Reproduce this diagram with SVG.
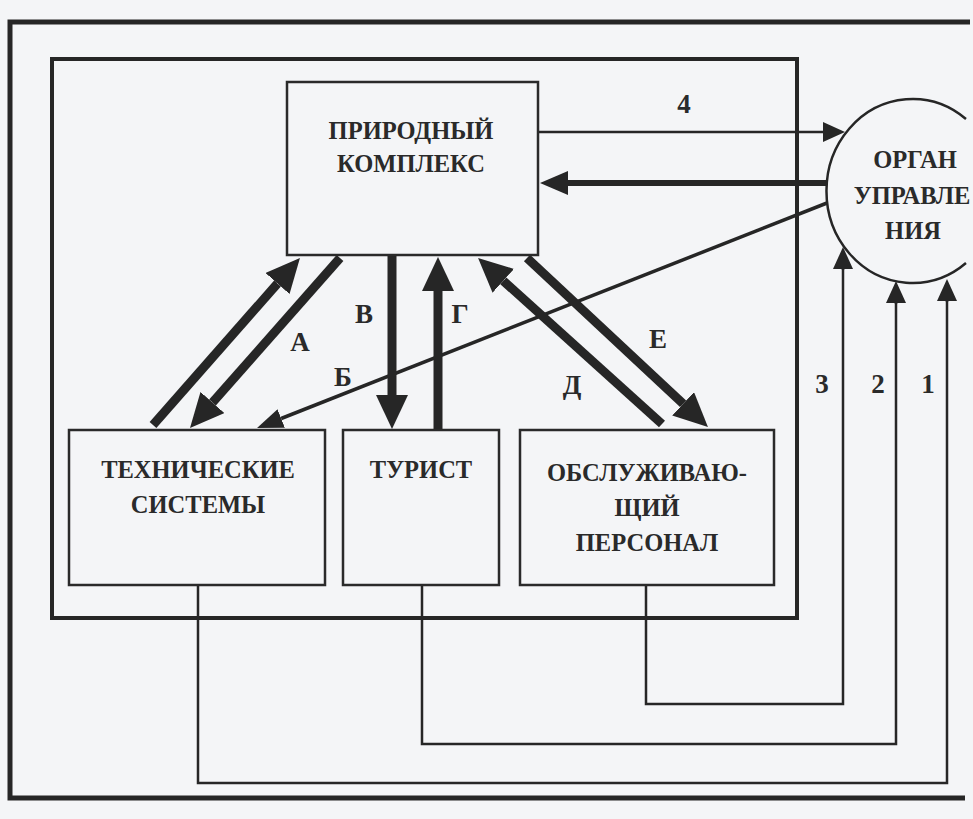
<svg xmlns="http://www.w3.org/2000/svg" width="973" height="819" viewBox="0 0 973 819">
<style>
  .frame{fill:none;stroke:#262626;stroke-width:5}
  .inner{fill:none;stroke:#262626;stroke-width:4}
  .box{fill:#f4f5f7;stroke:#2a2a2a;stroke-width:2.5}
  .t{font-family:"Liberation Serif","Times New Roman",serif;font-weight:bold;font-size:24.5px;fill:#2a2a2a;text-anchor:middle}
  .lbl{font-family:"Liberation Serif","Times New Roman",serif;font-weight:bold;font-size:27px;fill:#2a2a2a;text-anchor:middle}
  .thick{fill:none;stroke:#262626;stroke-width:9;marker-end:url(#hThick)}
  .mid{fill:none;stroke:#262626;stroke-width:6;marker-end:url(#hMid)}
  .thin{fill:none;stroke:#262626;stroke-width:2.5}
  .thinA{fill:none;stroke:#262626;stroke-width:2.5;marker-end:url(#hThin)}
  .bline{fill:none;stroke:#262626;stroke-width:3.5;marker-end:url(#hB)}
</style>
<defs>
  <marker id="hThick" markerUnits="userSpaceOnUse" markerWidth="34" markerHeight="32" viewBox="0 0 34 32" refX="0" refY="16" orient="auto"><path d="M0,0 L34,16 L0,32 z" fill="#262626"/></marker>
  <marker id="hMid" markerUnits="userSpaceOnUse" markerWidth="28" markerHeight="24" viewBox="0 0 28 24" refX="0" refY="12" orient="auto"><path d="M0,0 L28,12 L0,24 z" fill="#262626"/></marker>
  <marker id="hThin" markerUnits="userSpaceOnUse" markerWidth="22" markerHeight="20" viewBox="0 0 22 20" refX="0" refY="10" orient="auto"><path d="M0,0 L22,10 L0,20 z" fill="#262626"/></marker>
  <marker id="hB" markerUnits="userSpaceOnUse" markerWidth="26" markerHeight="20" viewBox="0 0 26 20" refX="0" refY="10" orient="auto"><path d="M0,0 L26,10 L0,20 z" fill="#262626"/></marker>
</defs>
<rect x="0" y="0" width="973" height="819" fill="#f4f5f7"/>
<g id="frames">
  <polyline class="frame" points="970,22 10,22 10,798 965,798"/>
  <rect class="inner" x="52" y="59" width="745" height="559"/>
</g>
<g id="connectors">
  <polyline class="thin" points="198,585 198,783 947,783 947,301"/>
  <polyline class="thin" points="422,585 422,744 896,744 896,303"/>
  <polyline class="thin" points="646,585 646,704 843,704 843,269"/>
  <line class="thinA" x1="947" y1="302" x2="947" y2="301"/>
  <line class="thinA" x1="896" y1="304" x2="896" y2="303"/>
  <line class="thinA" x1="843" y1="270" x2="843" y2="269"/>
  <line class="thinA" x1="539" y1="132" x2="823" y2="132"/>
  <line class="mid" x1="827" y1="183" x2="568" y2="183"/>
  <line class="bline" x1="827" y1="203" x2="281.2" y2="418.5"/>
  <line class="thick" x1="153" y1="425" x2="277.5" y2="283.5"/>
  <line class="thick" x1="340" y1="258" x2="212.5" y2="402.5"/>
  <line class="thick" x1="392" y1="256" x2="392" y2="395"/>
  <line class="thick" x1="438" y1="430" x2="438" y2="291"/>
  <line class="thick" x1="662" y1="424" x2="503.3" y2="280.8"/>
  <line class="thick" x1="527" y1="258" x2="683.1" y2="403.8"/>
</g>
<g id="labels">
  <text class="lbl" x="684" y="113">4</text>
  <text class="lbl" x="300" y="351">А</text>
  <text class="lbl" x="343" y="386">Б</text>
  <text class="lbl" x="364" y="323">В</text>
  <text class="lbl" x="460" y="323">Г</text>
  <text class="lbl" x="572" y="394">Д</text>
  <text class="lbl" x="658" y="348">Е</text>
  <text class="lbl" x="822" y="393">3</text>
  <text class="lbl" x="878" y="393">2</text>
  <text class="lbl" x="928" y="393">1</text>
</g>
<g id="node-priroda">
  <rect class="box" x="287" y="82" width="251" height="173"/>
  <text class="t" x="411" y="139">ПРИРОДНЫЙ</text>
  <text class="t" x="411" y="172">КОМПЛЕКС</text>
</g>
<g id="node-organ">
  <path d="M966,119 A86,92 0 1 0 966,263" fill="none" stroke="#262626" stroke-width="2.5"/>
  <text class="t" x="915" y="168">ОРГАН</text>
  <text class="t" x="912" y="204">УПРАВЛЕ</text>
  <text class="t" x="913" y="239">НИЯ</text>
</g>
<g id="node-tech">
  <rect class="box" x="69" y="430" width="256" height="155"/>
  <text class="t" x="198" y="478">ТЕХНИЧЕСКИЕ</text>
  <text class="t" x="198" y="513">СИСТЕМЫ</text>
</g>
<g id="node-tourist">
  <rect class="box" x="343" y="430" width="156" height="155"/>
  <text class="t" x="421" y="478">ТУРИСТ</text>
</g>
<g id="node-staff">
  <rect class="box" x="520" y="430" width="254" height="155"/>
  <text class="t" x="647" y="481">ОБСЛУЖИВАЮ-</text>
  <text class="t" x="647" y="516">ЩИЙ</text>
  <text class="t" x="647" y="551">ПЕРСОНАЛ</text>
</g>
</svg>
